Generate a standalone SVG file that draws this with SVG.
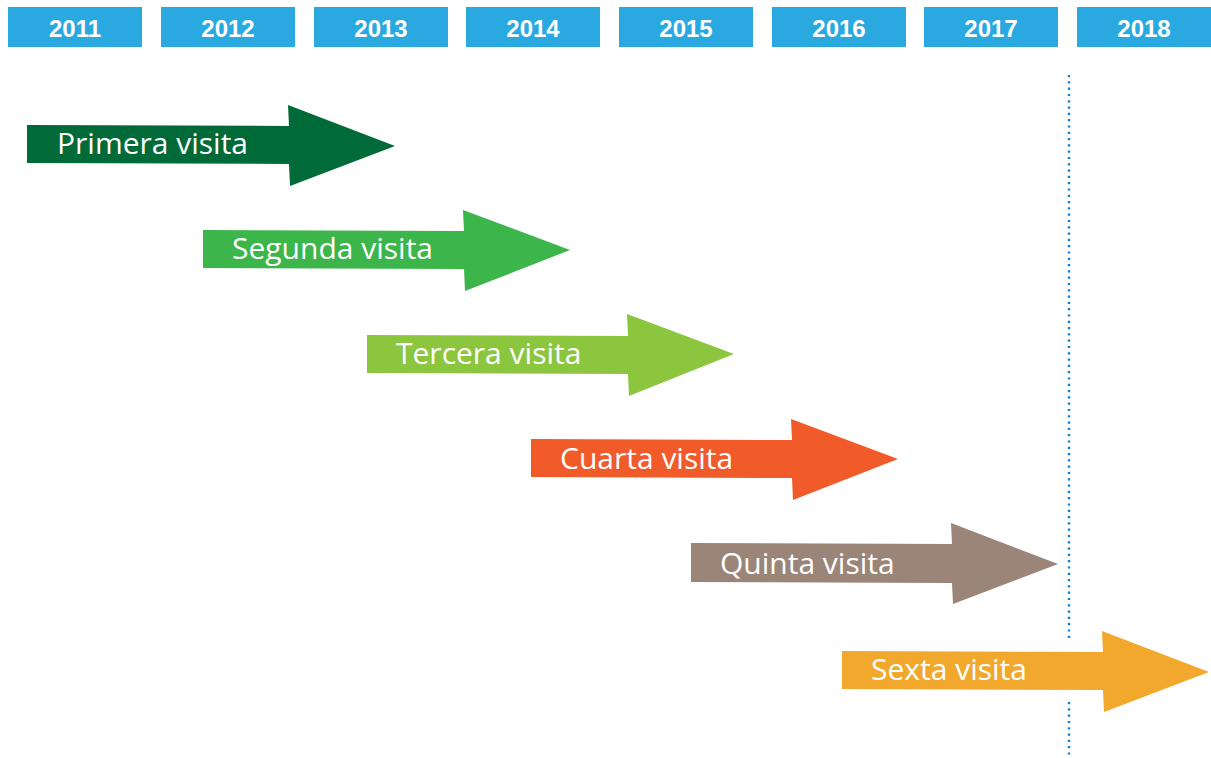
<svg xmlns="http://www.w3.org/2000/svg" width="1211" height="758" viewBox="0 0 1211 758">
<style>
.yr{fill:#29a9e0}
.yt{font-family:"Liberation Sans",Arial,sans-serif;font-weight:bold;font-size:24px;fill:#fff;text-anchor:middle}
.lbl{font-family:"Open Sans","Noto Sans",sans-serif;font-size:30px;fill:#fff}
.dot{stroke:#0a7fd0;stroke-width:2.4;stroke-dasharray:2.2 4.1;fill:none}
</style>
<rect width="1211" height="758" fill="#fff"/>
<g id="years">
<g id="y2011"><rect class="yr" x="8" y="7" width="134" height="40"/><text class="yt" x="75" y="37">2011</text></g>
<g id="y2012"><rect class="yr" x="161" y="7" width="134" height="40"/><text class="yt" x="228" y="37">2012</text></g>
<g id="y2013"><rect class="yr" x="314" y="7" width="134" height="40"/><text class="yt" x="381" y="37">2013</text></g>
<g id="y2014"><rect class="yr" x="466" y="7" width="134" height="40"/><text class="yt" x="533" y="37">2014</text></g>
<g id="y2015"><rect class="yr" x="619" y="7" width="134" height="40"/><text class="yt" x="686" y="37">2015</text></g>
<g id="y2016"><rect class="yr" x="772" y="7" width="134" height="40"/><text class="yt" x="839" y="37">2016</text></g>
<g id="y2017"><rect class="yr" x="924" y="7" width="134" height="40"/><text class="yt" x="991" y="37">2017</text></g>
<g id="y2018"><rect class="yr" x="1077" y="7" width="134" height="40"/><text class="yt" x="1144" y="37">2018</text></g>
</g>
<g id="connectors">
<line class="dot" x1="1069" y1="75" x2="1069" y2="638"/>
<line class="dot" x1="1069" y1="702" x2="1069" y2="756"/>
</g>
<g id="v1"><path d="M27,125 L289,126 L288,105 L395,146 L290,186 L289,164 L27,163 Z" fill="#006a39"/><text class="lbl" x="57" y="154">Primera visita</text></g>
<g id="v2"><path d="M203,230 L464,231 L463,210 L570,250 L465,291 L464,269 L203,268 Z" fill="#3cb54a"/><text class="lbl" x="232" y="259">Segunda visita</text></g>
<g id="v3"><path d="M367,335 L628,336 L627,314 L734,354 L629,396 L628,374 L367,373 Z" fill="#8cc63f"/><text class="lbl" x="396" y="364">Tercera visita</text></g>
<g id="v4"><path d="M531,439 L792,440 L791,419 L898,459 L793,500 L792,478 L531,477 Z" fill="#f15a29"/><text class="lbl" x="560" y="469">Cuarta visita</text></g>
<g id="v5"><path d="M691,543 L952,544 L951,523 L1058,564 L953,604 L952,583 L691,582 Z" fill="#9b8579"/><text class="lbl" x="720" y="574">Quinta visita</text></g>
<g id="v6"><path d="M842,651 L1103,652 L1102,631 L1209,672 L1104,712 L1103,690 L842,689 Z" fill="#f2a82c"/><text class="lbl" x="871" y="680">Sexta visita</text></g>
</svg>
